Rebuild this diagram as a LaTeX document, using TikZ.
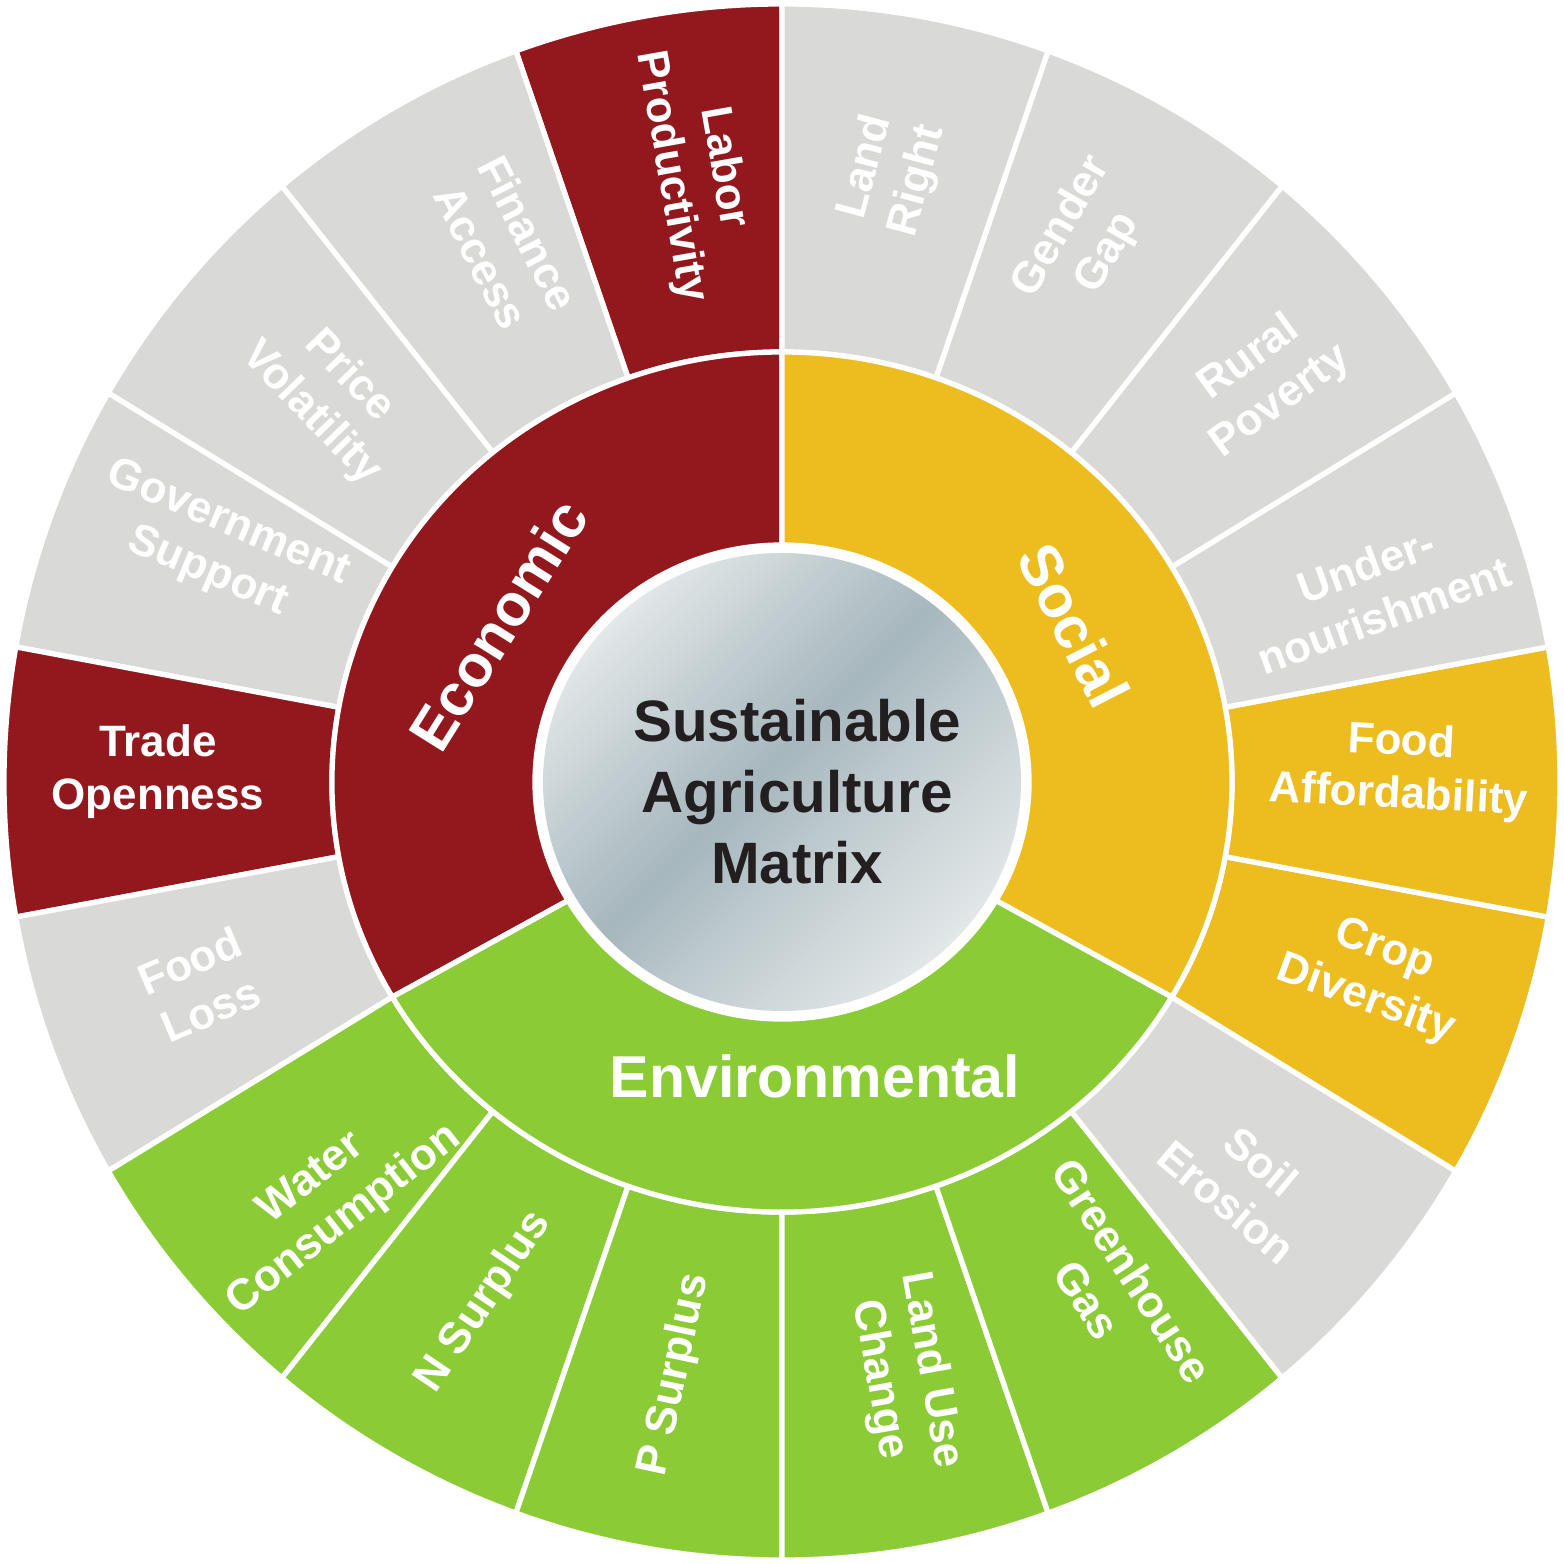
\documentclass[tikz,border=0pt]{standalone}
\usepackage{fontspec}
\setmainfont{Liberation Sans}
\usepackage{tikz}
\definecolor{econred}{HTML}{93181E}
\definecolor{socyellow}{HTML}{EDBC1E}
\definecolor{envgreen}{HTML}{8BCB36}
\definecolor{segray}{HTML}{D9D9D7}
\definecolor{titlegray}{HTML}{231F20}
\definecolor{metallight}{HTML}{E2E7E8}
\definecolor{metalmid}{HTML}{BFCBCF}
\definecolor{metaldark}{HTML}{A6B7BD}
\pgfdeclarehorizontalshading{metal}{100bp}{color(0bp)=(metallight); color(25bp)=(metallight); color(38bp)=(metalmid); color(48bp)=(metaldark); color(58bp)=(metalmid); color(75bp)=(metallight); color(100bp)=(metallight)}
% ring piece: start, end, inner x/y radius, outer x/y radius, fill
\newcommand{\sector}[7]{\filldraw[seg, fill=#7] (#1:#3 and #4) arc[start angle=#1, end angle=#2, x radius=#3, y radius=#4] -- (#2:#5 and #6) arc[start angle=#2, end angle=#1, x radius=#5, y radius=#6] -- cycle;}

\begin{document}
\begin{tikzpicture}[x=0.01cm, y=0.01cm,
  seg/.style={draw=white, line width=1.5pt},
  lab/.style={text=white, font=\bfseries\fontsize{12.5}{15.1}\selectfont, align=center},
  pillar/.style={text=white, font=\bfseries\fontsize{16.8}{20}\selectfont}]
  \useasboundingbox (-782,-782) rectangle (782,782);

  % Outer ring
  \sector{90}{110}{450}{430}{778}{778}{econred}
  \sector{110}{130}{450}{430}{778}{778}{segray}
  \sector{130}{150}{450}{430}{778}{778}{segray}
  \sector{150}{170}{450}{430}{778}{778}{segray}
  \sector{170}{190}{450}{430}{778}{778}{econred}
  \sector{190}{210}{450}{430}{778}{778}{segray}
  \sector{210}{230}{450}{430}{778}{778}{envgreen}
  \sector{230}{250}{450}{430}{778}{778}{envgreen}
  \sector{250}{270}{450}{430}{778}{778}{envgreen}
  \sector{270}{290}{450}{430}{778}{778}{envgreen}
  \sector{290}{310}{450}{430}{778}{778}{envgreen}
  \sector{310}{330}{450}{430}{778}{778}{segray}
  \sector{330}{350}{450}{430}{778}{778}{socyellow}
  \sector{-10}{10}{450}{430}{778}{778}{socyellow}
  \sector{10}{30}{450}{430}{778}{778}{segray}
  \sector{30}{50}{450}{430}{778}{778}{segray}
  \sector{50}{70}{450}{430}{778}{778}{segray}
  \sector{70}{90}{450}{430}{778}{778}{segray}

  % Middle ring
  \sector{90}{210}{247}{237}{450}{430}{econred}
  \sector{-30}{90}{247}{237}{450}{430}{socyellow}
  \sector{210}{330}{247}{237}{450}{430}{envgreen}

  % Centre disc
  \fill[white] (0,0) ellipse[x radius=248, y radius=238];
  \shade[shading=metal, shading angle=-45] (0,0) ellipse[x radius=239, y radius=229];
  \node[text=titlegray, font=\bfseries\fontsize{16.6}{20.2}\selectfont, align=center] (title) at (15,-10) {Sustainable\\Agriculture\\Matrix};

  % Pillars
  \node[pillar, rotate=58] (economic) at (-284,157) {Economic};
  \node[pillar, rotate=-63] (social) at (292,157) {Social};
  \node[pillar] (environmental) at (33,-294) {Environmental};

  % Economic indicators
  \node[lab, rotate=-80] (labor) at (-85,610) {Labor\\Productivity};
  \node[lab, rotate=-63] (finance) at (-277,537) {Finance\\Access};
  \node[lab, rotate=-46] (price) at (-452,387) {Price\\Volatility};
  \node[lab, rotate=-23] (government) at (-564,234) {Government\\Support};
  \node[lab] (trade) at (-624,10) {Trade\\Openness};
  \node[lab, rotate=23] (foodloss) at (-582,-203) {Food\\Loss};

  % Environmental indicators
  \node[lab, rotate=38] (water) at (-454,-418) {Water\\Consumption};
  \node[lab, rotate=56] (nsurplus) at (-298,-520) {N Surplus};
  \node[lab, rotate=78] (psurplus) at (-107,-593) {P Surplus};
  \node[lab, rotate=-80] (landuse) at (123,-593) {Land Use\\Change};
  \node[lab, rotate=-57] (greenhouse) at (328,-503) {Greenhouse\\Gas};
  \node[lab, rotate=-40] (soil) at (462,-400) {Soil\\Erosion};

  % Social indicators
  \node[lab, rotate=-20] (crop) at (593,-193) {Crop\\Diversity};
  \node[lab, rotate=-3] (afford) at (618,12) {Food\\Affordability};
  \node[lab, rotate=20] (under) at (593,192) {Under-\\nourishment};
  \node[lab, rotate=36] (rural) at (483,402) {Rural\\Poverty};
  \node[lab, rotate=60] (gender) at (303,542) {Gender\\Gap};
  \node[lab, rotate=75] (landright) at (110,608) {Land\\Right};
\end{tikzpicture}
\end{document}
